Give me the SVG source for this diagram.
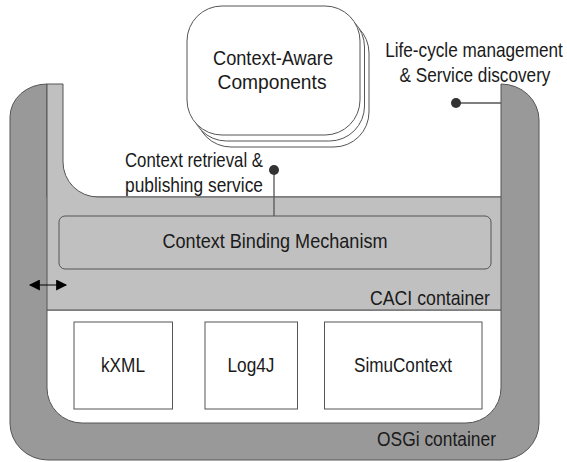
<svg xmlns="http://www.w3.org/2000/svg" width="567" height="462" viewBox="0 0 567 462">
<defs>
<style>
text{font-family:"Liberation Sans",Arial,sans-serif;font-size:21px;fill:#1a1a1a}
text.tall{font-size:17.2px}
.edge{stroke:#555;stroke-width:1}
.box{fill:#fff;stroke:#555;stroke-width:1}
.conn{stroke:#555;stroke-width:1.3;fill:none}
.dot{fill:#333}
</style>
<marker id="ah" viewBox="0 0 10 10" refX="9" refY="5" markerWidth="13" markerHeight="11" markerUnits="userSpaceOnUse" orient="auto-start-reverse">
<path d="M0 0L10 5L0 10z" fill="#000"/>
</marker>
</defs>
<rect width="567" height="462" fill="#fff"/>
<g id="osgi">
<path class="edge" fill="#999" d="M10 117A37 33 0 0 1 47 84L47 197L501 197L501 84A38 36 0 0 1 539 120L539 423A38 37 0 0 1 501 460L48 460A38 37 0 0 1 10 423Z"/>
<path class="edge" fill="#fff" d="M47 310L501 310L501 388A35 35 0 0 1 466 423L82 423A35 35 0 0 1 47 388Z"/>
<text x="496" y="446" text-anchor="end" textLength="119" lengthAdjust="spacingAndGlyphs">OSGi container</text>
</g>
<g id="caci">
<path class="edge" fill="#c0c0c0" d="M47 84L63 84L63 162A35 35 0 0 0 98 197L501 197L501 310L47 310Z"/>
<text x="490" y="305" text-anchor="end" textLength="120" lengthAdjust="spacingAndGlyphs">CACI container</text>
</g>
<g id="binding">
<rect x="59" y="216" width="432" height="53" rx="6" fill="#c0c0c0" stroke="#555" stroke-width="1"/>
<text x="275" y="248" text-anchor="middle" textLength="225" lengthAdjust="spacingAndGlyphs">Context Binding Mechanism</text>
</g>
<g id="components">
<rect class="box" x="196" y="18" width="173" height="129" rx="35"/>
<rect class="box" x="191.5" y="12" width="173" height="129" rx="35"/>
<rect class="box" x="187" y="6" width="173" height="129" rx="35"/>
<text x="273" y="65" text-anchor="middle" textLength="120" lengthAdjust="spacingAndGlyphs">Context-Aware</text>
<text x="272" y="89" text-anchor="middle" textLength="109" lengthAdjust="spacingAndGlyphs">Components</text>
</g>
<g id="kxml">
<rect class="box" x="74" y="322" width="98.5" height="87"/>
<text x="123" y="372" text-anchor="middle" textLength="44" lengthAdjust="spacingAndGlyphs">kXML</text>
</g>
<g id="log4j">
<rect class="box" x="205" y="322" width="92.5" height="87"/>
<text x="251" y="372" text-anchor="middle" textLength="47" lengthAdjust="spacingAndGlyphs">Log4J</text>
</g>
<g id="simucontext">
<rect class="box" x="324.5" y="322" width="157.5" height="87"/>
<text x="403" y="372" text-anchor="middle" textLength="98" lengthAdjust="spacingAndGlyphs">SimuContext</text>
</g>
<g id="connectors">
<line class="conn" x1="456" y1="103" x2="501" y2="103"/>
<circle class="dot" cx="456" cy="103" r="5"/>
<line class="conn" x1="274" y1="170" x2="274" y2="216"/>
<circle class="dot" cx="274" cy="170" r="5"/>
<line x1="30" y1="285" x2="66" y2="285" stroke="#000" stroke-width="1.2" marker-start="url(#ah)" marker-end="url(#ah)"/>
</g>
<g id="labels">
<text class="tall" transform="translate(474 57) scale(1 1.22)" text-anchor="middle">Life-cycle management</text>
<text class="tall" transform="translate(475 82) scale(1 1.22)" text-anchor="middle">&amp; Service discovery</text>
<text x="125" y="167" textLength="138" lengthAdjust="spacingAndGlyphs">Context retrieval &amp;</text>
<text x="125" y="192" textLength="138" lengthAdjust="spacingAndGlyphs">publishing service</text>
</g>
</svg>
